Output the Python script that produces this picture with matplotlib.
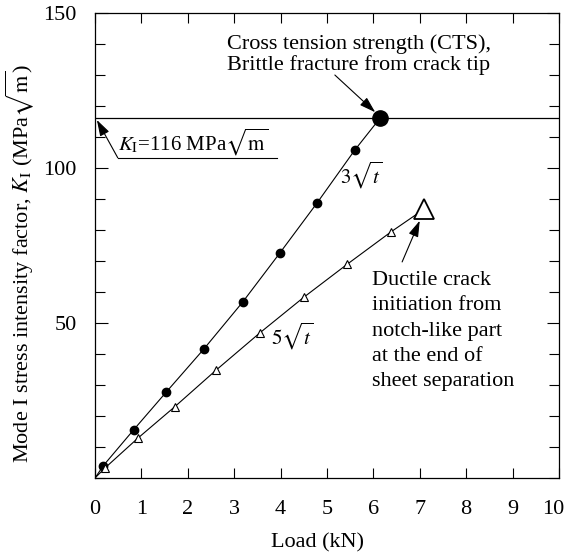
import matplotlib.pyplot as plt
import matplotlib.transforms as mtransforms
import numpy as np

plt.rcParams['font.family'] = ['Liberation Serif', 'DejaVu Serif']
plt.rcParams['mathtext.fontset'] = 'stix'

# 3*sqrt(t) series (filled circles), last point = CTS
load_3 = [0, 0.18, 0.83, 1.54, 2.34, 3.18, 3.99, 4.79, 5.60]
k_3 = [0, 4.0, 15.5, 27.8, 41.5, 56.7, 72.7, 88.8, 105.8]
cts_load = 6.14
cts_k = 116

# 5*sqrt(t) series (open triangles), last point = ductile crack initiation
load_5 = [0, 0.22, 0.92, 1.72, 2.61, 3.56, 4.50, 5.44, 6.39]
k_5 = [0, 3.3, 12.8, 23.0, 34.8, 46.9, 58.3, 69.0, 79.5]
duct_load = 7.09
duct_k = 86.7

k_limit = 116

fig = plt.figure(figsize=(5.68, 5.54), dpi=100)
ax = fig.add_axes([0.1673, 0.1372, 0.984 - 0.1673, 0.9765 - 0.1372])

ax.axhline(k_limit, color='k', lw=0.9)

# lines
ax.plot(load_3 + [cts_load], k_3 + [cts_k], '-', color='k', lw=0.8)
ax.plot(load_5 + [duct_load], k_5 + [duct_k], '-', color='k', lw=0.8)

# markers
ax.plot(load_3[1:], k_3[1:], 'o', color='k', ms=6, lw=0)
ax.plot(cts_load, cts_k, 'o', color='k', ms=11)
ax.plot(load_5[1:], k_5[1:], '^', mfc='white', mec='k', mew=0.8, ms=6, lw=0)
ax.plot(duct_load, duct_k, '^', mfc='white', mec='k', mew=1.3, ms=14)

ax.set_xlim(0, 10)
ax.set_ylim(0, 150)
ax.set_xticks(np.arange(0, 11, 1))
ax.set_yticks([50, 100, 150])
ax.set_yticks(np.arange(0, 151, 10), minor=True)
ax.tick_params(axis='both', which='both', direction='in', top=True, right=True,
               labelsize=16, width=0.8)
ax.tick_params(axis='y', which='major', length=9, pad=13)
ax.tick_params(axis='y', which='minor', length=7)
ax.tick_params(axis='x', which='major', length=7, pad=16)
for s in ax.spines.values():
    s.set_linewidth(0.9)

# keep the "10" inside the figure
last = ax.get_xticklabels()[-1]
last.set_transform(last.get_transform() +
                   mtransforms.ScaledTranslation(-6 / 100, 0, fig.dpi_scale_trans))

ax.set_xlabel('Load (kN)', fontsize=16)
ax.xaxis.set_label_coords(0.48, -0.118)
ax.set_ylabel(r'Mode I stress intensity factor, $K_\mathrm{I}$ (MPa$\sqrt{\mathrm{m}}$)',
              fontsize=16)
ax.yaxis.set_label_coords(-0.128, 0.46)

arrow = dict(arrowstyle='-|>,head_length=0.7,head_width=0.22', color='k', lw=0.8,
             mutation_scale=14, shrinkA=0, shrinkB=0)

# annotations
ax.text(2.845, 136.5, 'Cross tension strength (CTS),\nBrittle fracture from crack tip',
        fontsize=16, va='center', ha='left', linespacing=1.09)
ax.annotate('', xy=(cts_load - 0.1, cts_k + 2.0), xytext=(5.17, 130.0),
            arrowprops=arrow)

ax.text(0.5, 108.4, r'$K_\mathrm{I}$=116 MPa$\sqrt{\mathrm{m}}$', fontsize=15,
        va='center', ha='left')
ax.plot([0.49, 3.92], [103.3, 103.3], color='k', lw=0.8)
ax.annotate('', xy=(0.04, k_limit - 0.5), xytext=(0.49, 103.3),
            arrowprops=arrow)

ax.text(5.75, 97.7, r'$3\sqrt{t}$', fontsize=15, va='center', ha='center')
ax.text(4.25, 45.8, r'$5\sqrt{t}$', fontsize=15, va='center', ha='center')

ax.text(5.97, 47.4, 'Ductile crack\ninitiation from\nnotch-like part\nat the end of\nsheet separation',
        fontsize=16, va='center', ha='left', linespacing=1.46)
ax.annotate('', xy=(7.0, 83.0), xytext=(6.62, 69.7),
            arrowprops=arrow)

fig.savefig('out.png', dpi=100)
